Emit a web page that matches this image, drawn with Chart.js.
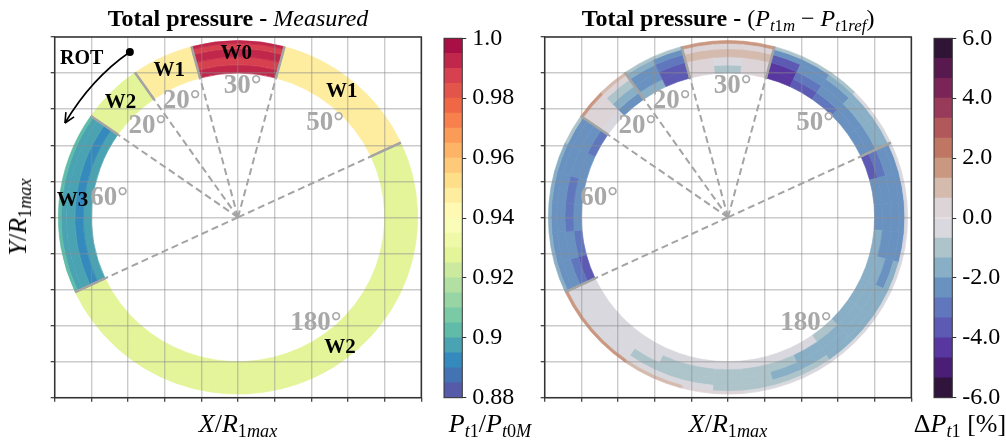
<!DOCTYPE html>
<html>
<head>
<meta charset="utf-8">
<script src="https://cdn.jsdelivr.net/npm/chart.js@4.4.0/dist/chart.umd.min.js"></script>
<style>
body{margin:0;width:1006px;height:443px;background:#fff;position:relative;overflow:hidden;font-family:"Liberation Serif",serif;}
canvas{position:absolute;top:0;}
.txt{position:absolute;white-space:nowrap;color:#000;line-height:1;}
.title{font-size:24px;font-weight:bold;top:6px;transform:translateX(-50%);}
.m{font-weight:normal;}
.lab{font-size:26px;top:411px;transform:translateX(-50%);}
sub{font-size:70%;vertical-align:-0.3em;line-height:0;}
i{font-style:italic;}
</style>
</head>
<body>
<canvas id="ringA" width="430" height="443" style="left:0px"></canvas>
<canvas id="barA" width="83" height="443" style="left:440px"></canvas>
<canvas id="ringB" width="430" height="443" style="left:490px"></canvas>
<canvas id="barB" width="83" height="443" style="left:930px"></canvas>

<div class="txt title" style="left:238px">Total pressure - <span class="m"><i>Measured</i></span></div>
<div class="txt title" style="left:728px">Total pressure - <span class="m">(<i>P</i><sub><i>t</i>1<i>m</i></sub> − <i>P</i><sub><i>t</i>1<i>ref</i></sub>)</span></div>
<div class="txt lab" style="left:238px"><i>X</i>/<i>R</i><sub>1<i>max</i></sub></div>
<div class="txt lab" style="left:728px"><i>X</i>/<i>R</i><sub>1<i>max</i></sub></div>
<div class="txt lab" style="left:18px;top:217px;transform:translate(-50%,-50%) rotate(-90deg)"><i>Y</i>/<i>R</i><sub>1<i>max</i></sub></div>
<div class="txt lab" style="left:490px"><i>P</i><sub><i>t</i>1</sub>/<i>P</i><sub><i>t</i>0<i>M</i></sub></div>
<div class="txt lab" style="left:960px">Δ<i>P</i><sub><i>t</i>1</sub> [%]</div>

<script>
// sectors, clockwise from 105 deg
const sectorNames = ["W0", "W1", "W2", "W3", "W2", "W1"];
const sectorSpan = [30, 50, 180, 60, 20, 20];
const startAngle = 105;
// radial band edges (r / R1max), inner to outer
const bandRadius = [0.80, 0.845, 0.89, 0.935, 0.965, 0.98];

// measured Pt1/Pt0M, one row per sector, bands inner -> outer
const measured = [
    [0.991, 0.988, 0.992, 0.988, 0.991],
    [0.947, 0.946, 0.948, 0.946, 0.947],
    [0.928, 0.928, 0.929, 0.928, 0.927],
    [0.897, 0.893, 0.897, 0.897, 0.902],
    [0.928, 0.928, 0.929, 0.928, 0.927],
    [0.947, 0.946, 0.948, 0.946, 0.947]
];

// delta Pt1 [%], columns clockwise inside each sector, bands inner -> outer
const deltaW0 = [
    [0.3, 0.3, 0.9, 0.3, 1.6],
    [-0.9, -0.3, 0.9, 0.3, 1.6],
    [0.3, 0.3, 0.9, 0.3, 1.6]
];
const deltaW1a = [
    [-4.4, -4.4, -3.8, -2.6, -1.2],
    [-3.8, -3.2, -2.5, -2.2, -1.0],
    [-3.0, -2.5, -2.3, -1.7, -0.8],
    [-2.5, -2.4, -1.8, -1.6, -0.5],
    [-2.4, -2.3, -1.7, -1.5, -0.4]
];
const deltaW2a = [
    [-3.6, -3.0, -2.4, -2.3, -0.6],
    [-2.4, -2.3, -2.3, -2.3, -0.5],
    [-2.3, -2.3, -2.3, -2.3, -0.5],
    [-2.0, -2.3, -2.3, -2.3, -0.5],
    [-1.6, -2.0, -2.3, -1.8, -0.5],
    [-1.6, -1.6, -1.7, -1.6, -0.5],
    [-1.6, -1.6, -1.6, -1.5, -0.4],
    [-0.9, -1.6, -1.6, -1.4, -0.3],
    [-0.5, -1.5, -1.6, -1.2, -0.3],
    [-0.3, -1.0, -1.4, -1.0, -0.3],
    [-0.3, -1.0, -1.0, -1.0, -0.3],
    [-0.3, -1.0, -1.0, -0.9, 0.3],
    [-0.3, -1.0, -1.0, -0.5, 0.3],
    [-0.3, -0.9, -0.9, -0.3, 0.9],
    [-0.3, -0.3, -0.8, -0.3, 1.0],
    [-0.3, -0.3, -0.3, -0.3, 1.4],
    [-0.3, -0.3, -0.3, -0.3, 1.5],
    [-0.3, -0.3, -0.3, -0.3, 1.5]
];
const deltaW3 = [
    [-3.8, -3.0, -2.6, -2.3, -1.6],
    [-3.0, -2.6, -2.4, -2.3, -1.4],
    [-2.6, -3.0, -2.4, -2.3, -1.4],
    [-2.4, -2.7, -2.3, -2.3, -1.4],
    [-2.3, -2.4, -2.3, -2.3, -1.4],
    [-3.2, -2.5, -2.3, -2.2, -1.2]
];
const deltaW2b = [
    [-0.5, 0.3, 0.3, 0.3, 1.5],
    [-2.3, -1.6, -0.9, 0.3, 1.2]
];
const deltaW1b = [
    [-1.6, -2.3, -2.2, -1.6, -0.8],
    [-4.0, -3.6, -3.0, -2.4, -1.0]
];

// colorbars
const leftRange = [0.88, 1.0];
const leftTicks = [0.88, 0.9, 0.92, 0.94, 0.96, 0.98, 1.0];
const leftTickLabels = ["0.88", "0.9", "0.92", "0.94", "0.96", "0.98", "1.0"];
const rightRange = [-6, 6];
const rightTicks = [-6, -4, -2, 0, 2, 4, 6];
const rightTickLabels = ["-6.0", "-4.0", "-2.0", "0.0", "2.0", "4.0", "6.0"];

// annotation texts
const angleLabels = ["30°", "50°", "180°", "60°", "20°", "20°"];
const angleLabelPos = [[0.025, 0.729], [0.475, 0.521], [0.425, -0.584], [-0.703, 0.105], [-0.307, 0.647], [-0.494, 0.507]];
const wLabelPos = [[-0.01, 0.91], [0.566, 0.697], [0.556, -0.722], [-0.903, 0.091], [-0.641, 0.637], [-0.375, 0.815]];

const serif = '"Liberation Serif", serif';
const D = Math.PI / 180;

// matplotlib Spectral, used reversed
const spectral = ['#9e0142','#d53e4f','#f46d43','#fdae61','#fee08b','#ffffbf','#e6f598','#abdda4','#66c2a5','#3288bd','#5e4fa2'];
function hexRgb(h){ return [1,3,5].map(k => parseInt(h.substr(k,2),16)); }
function spectralR(t){
    let u = (1 - t) * 10, i = Math.min(9, Math.floor(u)), f = u - i;
    let a = hexRgb(spectral[i]), b = hexRgb(spectral[i+1]);
    return 'rgb(' + a.map((c,k) => Math.round(c + (b[k]-c)*f)).join(',') + ')';
}
const leftColors = [];
for (let i = 0; i < 24; i++) leftColors.push(spectralR((i + 0.5) / 24));
const rightColors = ['#31143c','#4a1d76','#5837a0','#5c5ab3','#6177bd','#6a92c1','#89afc6','#adc4ca','#d8d8de',
                     '#ddd4d8','#d5baae','#ca9780','#bf7763','#b0585a','#983b5a','#7b2458','#58194e','#2f1436'];

function levelColor(v, range, colors){
    let i = Math.floor((v - range[0]) / (range[1] - range[0]) * colors.length);
    return colors[Math.max(0, Math.min(colors.length - 1, i))];
}

function buildColumns(sectorCols){
    let cols = [], a = startAngle;
    sectorSpan.forEach(function(span, s){
        let list = sectorCols[s], w = span / list.length;
        list.forEach(function(b){ cols.push({a0: a, a1: a - w, bands: b}); a -= w; });
    });
    return cols;
}

function ringPlugin(cfg){
    function geo(chart){
        let x = chart.scales.x, y = chart.scales.y;
        let cx = x.getPixelForValue(0), cy = y.getPixelForValue(0);
        return {cx: cx, cy: cy, kx: x.getPixelForValue(1) - cx, ky: cy - y.getPixelForValue(1),
            pt: (r, a) => [x.getPixelForValue(r * Math.cos(a * D)), y.getPixelForValue(r * Math.sin(a * D))],
            px: (p) => [x.getPixelForValue(p[0]), y.getPixelForValue(p[1])]};
    }
    return {
        id: 'ring',
        beforeDatasetsDraw(chart){
            let ctx = chart.ctx, g = geo(chart);
            ctx.save();
            cfg.columns.forEach(function(col){
                col.bands.forEach(function(v, b){
                    let r0 = bandRadius[b], r1 = bandRadius[b+1];
                    let c = levelColor(v, cfg.range, cfg.colors);
                    ctx.beginPath();
                    ctx.ellipse(g.cx, g.cy, r1*g.kx, r1*g.ky, 0, -col.a0*D, -col.a1*D, false);
                    ctx.ellipse(g.cx, g.cy, r0*g.kx, r0*g.ky, 0, -col.a1*D, -col.a0*D, true);
                    ctx.closePath();
                    ctx.fillStyle = c; ctx.strokeStyle = c; ctx.lineWidth = 0.7;
                    ctx.fill(); ctx.stroke();
                });
            });
            ctx.restore();
        },
        afterDraw(chart){
            let ctx = chart.ctx, g = geo(chart), a = chart.chartArea;
            ctx.save();
            // sector boundaries
            let bounds = [], ang = startAngle;
            sectorSpan.forEach(function(s){ bounds.push(ang); ang -= s; });
            ctx.strokeStyle = '#a4a4a4';
            bounds.forEach(function(b){
                let p0 = g.pt(bandRadius[0], b), p1 = g.pt(bandRadius[bandRadius.length-1], b);
                ctx.setLineDash([]); ctx.lineWidth = 2.5;
                ctx.beginPath(); ctx.moveTo(p0[0], p0[1]); ctx.lineTo(p1[0], p1[1]); ctx.stroke();
                ctx.setLineDash([7, 4]); ctx.lineWidth = 2;
                ctx.beginPath(); ctx.moveTo(g.cx, g.cy); ctx.lineTo(p1[0], p1[1]); ctx.stroke();
            });
            ctx.setLineDash([]);
            // labels
            ctx.textAlign = 'center'; ctx.textBaseline = 'middle';
            ctx.fillStyle = '#a8a8a8'; ctx.font = 'bold 27px ' + serif;
            angleLabels.forEach(function(t, i){ let p = g.px(angleLabelPos[i]); ctx.fillText(t, p[0], p[1]); });
            if (cfg.names){
                ctx.fillStyle = '#000'; ctx.font = 'bold 21px ' + serif;
                sectorNames.forEach(function(t, i){ let p = g.px(wLabelPos[i]); ctx.fillText(t, p[0], p[1]); });
                // rotation arrow
                let s = g.px([-0.59, 0.917]), c = g.px([-0.80, 0.77]), e = g.px([-0.944, 0.523]);
                ctx.strokeStyle = '#000'; ctx.lineWidth = 1.6;
                ctx.beginPath(); ctx.moveTo(s[0], s[1]); ctx.quadraticCurveTo(c[0], c[1], e[0], e[1]); ctx.stroke();
                let dx = e[0] - c[0], dy = e[1] - c[1], L = Math.hypot(dx, dy); dx /= L; dy /= L;
                ctx.beginPath();
                [0.45, -0.45].forEach(function(w){
                    let cs = Math.cos(w), sn = Math.sin(w);
                    let hx = -(dx*cs - dy*sn) * 11, hy = -(dx*sn + dy*cs) * 11;
                    ctx.moveTo(e[0], e[1]); ctx.lineTo(e[0] + hx, e[1] + hy);
                });
                ctx.stroke();
                ctx.fillStyle = '#000';
                ctx.beginPath(); ctx.arc(s[0], s[1], 4, 0, 2*Math.PI); ctx.fill();
                let r = g.px([-0.853, 0.881]);
                ctx.font = 'bold 20px ' + serif; ctx.fillText('ROT', r[0], r[1]);
            }
            // frame
            ctx.strokeStyle = '#333'; ctx.lineWidth = 1.5;
            ctx.strokeRect(a.left, a.top, a.right - a.left, a.bottom - a.top);
            ctx.restore();
        }
    };
}

function panelChart(id, cfg){
    let miCanvas = document.getElementById(id).getContext("2d");
    let eje = {
        type: 'linear', min: -1, max: 1,
        ticks: {display: false, stepSize: 0.2},
        grid: {z: 1, color: 'rgba(140,140,140,0.45)', lineWidth: 1.4, tickColor: '#333', tickLength: 4, tickWidth: 1.2},
        border: {display: false}
    };
    new Chart(miCanvas, {
        type: 'scatter',
        data: {datasets: [{data: []}]},
        options: {
            responsive: false, animation: false,
            layout: {padding: {left: 50.7, right: 8.7, top: 37, bottom: 41.3}},
            plugins: {legend: {display: false}, tooltip: {enabled: false}},
            scales: {x: eje, y: Object.assign({}, eje)}
        },
        plugins: [ringPlugin(cfg)]
    });
}

function colorBar(id, range, colors, ticks, labels){
    let miCanvas = document.getElementById(id).getContext("2d");
    let step = (range[1] - range[0]) / colors.length;
    let datasets = colors.map(function(c, i){
        return {data: [[range[0] + i*step, range[0] + (i+1)*step]], backgroundColor: c,
                grouped: false, barPercentage: 1, categoryPercentage: 1, borderWidth: 0};
    });
    new Chart(miCanvas, {
        type: 'bar',
        data: {labels: [''], datasets: datasets},
        options: {
            responsive: false, animation: false,
            layout: {padding: {left: 4, right: 0, top: 38.3, bottom: 45.3}},
            plugins: {legend: {display: false}, tooltip: {enabled: false}},
            scales: {
                x: {display: false},
                y: {
                    position: 'right', min: range[0], max: range[1],
                    afterBuildTicks: function(s){ s.ticks = ticks.map(v => ({value: v})); },
                    afterFit: function(s){ s.width = 60.7; },
                    ticks: {callback: (v, i) => labels[i], color: '#000', padding: 6, font: {family: serif, size: 24}},
                    grid: {drawOnChartArea: false, tickLength: 4, tickColor: '#333', tickWidth: 1},
                    border: {display: false}
                }
            }
        },
        plugins: [{
            id: 'marco',
            afterDraw(chart){
                let a = chart.chartArea, ctx = chart.ctx;
                ctx.save(); ctx.strokeStyle = '#333'; ctx.lineWidth = 1;
                ctx.strokeRect(a.left, a.top, a.right - a.left, a.bottom - a.top);
                ctx.restore();
            }
        }]
    });
}

document.addEventListener("DOMContentLoaded", function(){
    panelChart("ringA", {columns: buildColumns(measured.map(b => [b])), range: leftRange, colors: leftColors, names: true});
    panelChart("ringB", {columns: buildColumns([deltaW0, deltaW1a, deltaW2a, deltaW3, deltaW2b, deltaW1b]), range: rightRange, colors: rightColors, names: false});
    colorBar("barA", leftRange, leftColors, leftTicks, leftTickLabels);
    colorBar("barB", rightRange, rightColors, rightTicks, rightTickLabels);
});
</script>
</body>
</html>
